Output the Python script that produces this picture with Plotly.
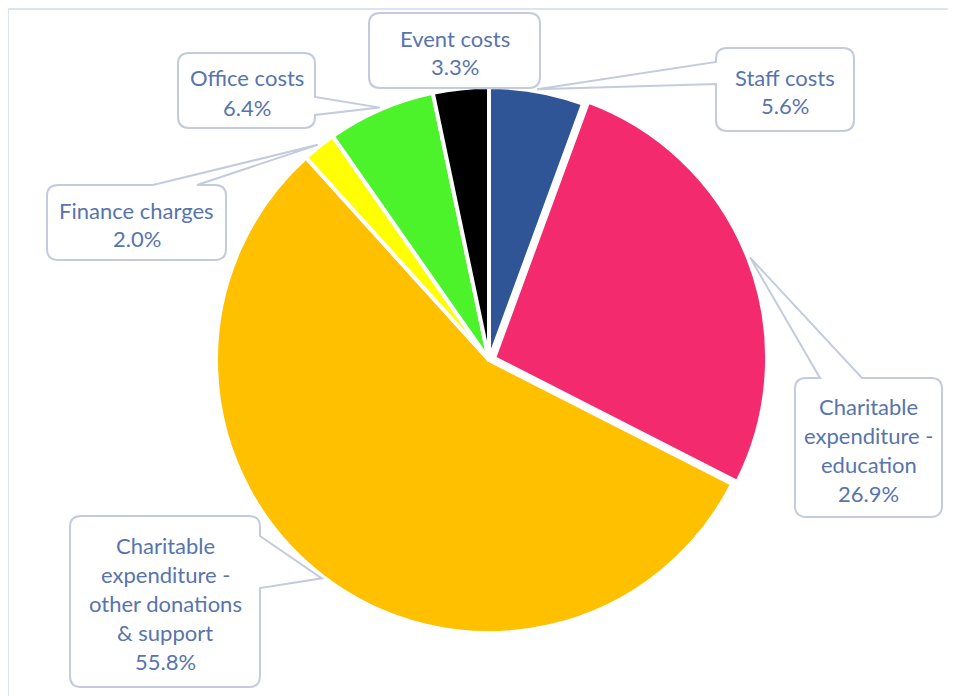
import math

import plotly.graph_objects as go

# Data
labels = [
    "Staff costs",
    "Charitable expenditure - education",
    "Charitable expenditure - other donations & support",
    "Finance charges",
    "Office costs",
    "Event costs",
]
values = [5.6, 26.9, 55.8, 2.0, 6.4, 3.3]
colors = ["#2F5597", "#F42A6E", "#FFC000", "#FFFF00", "#4CF22A", "#000000"]
label_lines = [
    ["Staff costs"],
    ["Charitable", "expenditure -", "education"],
    ["Charitable", "expenditure -", "other donations", "& support"],
    ["Finance charges"],
    ["Office costs"],
    ["Event costs"],
]
pulls = [0, 0.02, 0, 0, 0, 0]

# Layout (pixels, page coordinates; the page body adds an 8px offset)
W, H = 956, 696
OX, OY = 8, 8
CX, CY, R = 489, 360, 273
TEXT_COLOR = "#5874AE"
BOX_COLOR = "#C3CBDC"

# callout boxes: x0, y0, x1, y1, side of pointer, pointer base start/end
boxes = [
    (716, 48, 854, 131, "left", 62, 84),
    (795, 378, 942, 517, "top", 820, 862),
    (70, 516, 260, 687, "right", 536, 588),
    (47, 185, 226, 260, "top", 153, 197),
    (178, 53, 315, 128, "right", 97, 115),
    (369, 13, 540, 88, None, 0, 0),
]


def px(x, y):
    return (x - OX) / W, 1 - (y - OY) / H


def bubble_path(x0, y0, x1, y1, side, b0, b1, tip, r=11):
    pts = []

    def P(cmd, *xy):
        s = cmd
        for i in range(0, len(xy), 2):
            X, Y = px(xy[i], xy[i + 1])
            s += f" {X:.5f},{Y:.5f}"
        pts.append(s)

    P("M", x0 + r, y0)
    if side == "top":
        P("L", b0, y0)
        P("L", *tip)
        P("L", b1, y0)
    P("L", x1 - r, y0)
    P("Q", x1, y0, x1, y0 + r)
    if side == "right":
        P("L", x1, b0)
        P("L", *tip)
        P("L", x1, b1)
    P("L", x1, y1 - r)
    P("Q", x1, y1, x1 - r, y1)
    if side == "bottom":
        P("L", b1, y1)
        P("L", *tip)
        P("L", b0, y1)
    P("L", x0 + r, y1)
    P("Q", x0, y1, x0, y1 - r)
    if side == "left":
        P("L", x0, b1)
        P("L", *tip)
        P("L", x0, b0)
    P("L", x0, y0 + r)
    P("Q", x0, y0, x0 + r, y0)
    return " ".join(pts) + " Z"


total = sum(values)
k = 1 + max(pulls)
dx0, dy0 = px(CX - R * k, CY + R * k)
dx1, dy1 = px(CX + R * k, CY - R * k)
fig = go.Figure(
    go.Pie(
        labels=labels,
        values=values,
        sort=False,
        direction="clockwise",
        rotation=0,
        pull=pulls,
        marker=dict(colors=colors, line=dict(color="white", width=4)),
        textinfo="none",
        hoverinfo="label+percent",
        showlegend=False,
        domain=dict(x=[dx0, dx1], y=[dy0, dy1]),
    )
)

fx0, fy0 = px(8, 9)
shapes = [
    dict(
        type="rect", xref="paper", yref="paper",
        x0=fx0, y0=-0.05, x1=1.05, y1=fy0,
        line=dict(color="#DCE3F2", width=2), fillcolor="rgba(0,0,0,0)",
    )
]
annotations = []
cum = 0
for i, v in enumerate(values):
    theta = (cum + v / 2) / total * 2 * math.pi
    cum += v
    rr = R + 2 + pulls[i] * R
    tip = (CX + rr * math.sin(theta), CY - rr * math.cos(theta))
    x0, y0, x1, y1, side, b0, b1 = boxes[i]
    shapes.append(
        dict(
            type="path", xref="paper", yref="paper",
            path=bubble_path(x0, y0, x1, y1, side, b0, b1, tip),
            line=dict(color=BOX_COLOR, width=2), fillcolor="white",
        )
    )
    lines = label_lines[i] + [f"{v / total * 100:.1f}%"]
    mid = (y0 + y1) / 2 + 2
    for j, t in enumerate(lines):
        ly = mid + (j - (len(lines) - 1) / 2) * 29
        X, Y = px((x0 + x1) / 2, ly)
        annotations.append(
            dict(
                text=t, x=X, y=Y, xref="paper", yref="paper",
                showarrow=False, xanchor="center", yanchor="middle",
                font=dict(family="Lato", size=22, color=TEXT_COLOR),
            )
        )

fig.update_layout(
    width=W,
    height=H,
    margin=dict(l=0, r=0, t=0, b=0),
    paper_bgcolor="white",
    plot_bgcolor="white",
    shapes=shapes,
    annotations=annotations,
)

fig.write_html("out.html")
